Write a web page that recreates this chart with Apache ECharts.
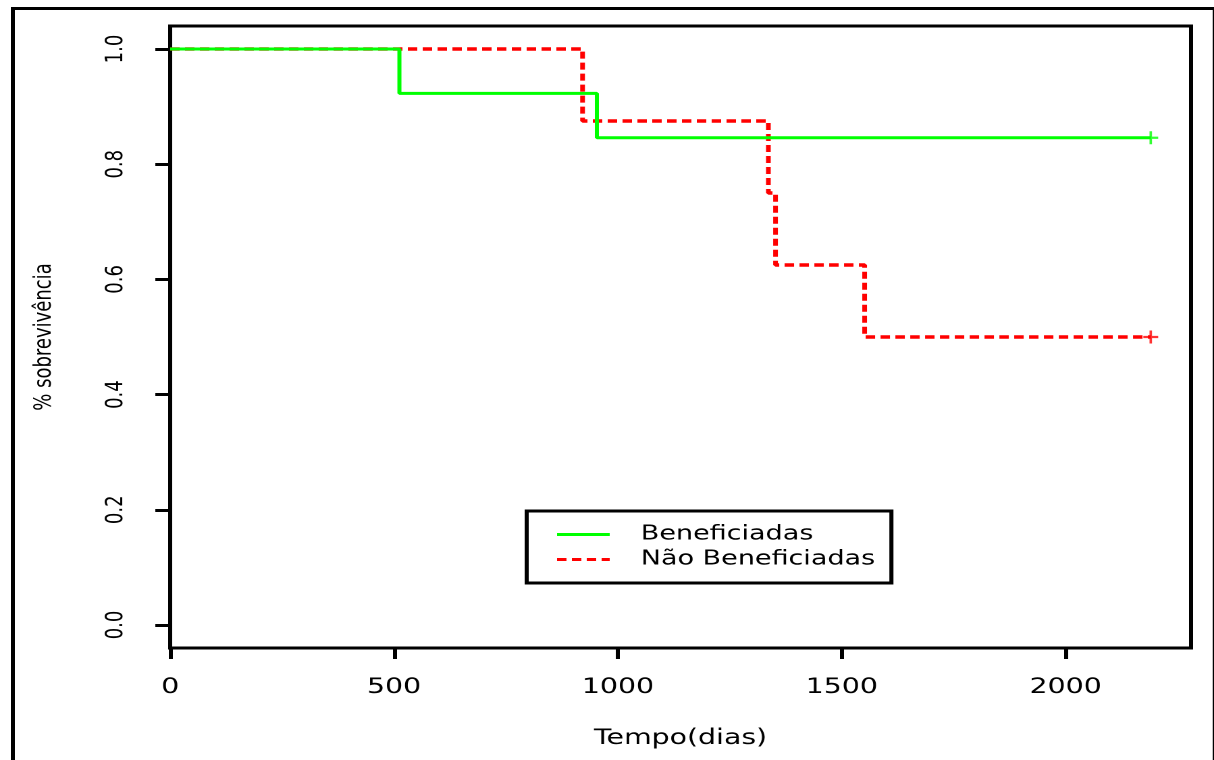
<!DOCTYPE html>
<html>
<head>
<meta charset="utf-8">
<script src="https://cdn.jsdelivr.net/npm/echarts@6/dist/echarts.min.js"></script>
<style>
html,body{margin:0;padding:0;background:#fff;overflow:hidden;width:1214px;height:760px;}
/* the reference image is stretched horizontally (~1.35x); reproduce that stretch */
#chart{width:899px;height:760px;transform:scaleX(1.3504);transform-origin:0 0;}
</style>
</head>
<body>
<div id="chart"></div>
<script>
// Kaplan-Meier step curves: [time, survival]
const beneficiadasTimes = [0, 512, 953, 2190];
const beneficiadasSurv  = [1.0, 0.923, 0.846, 0.846];
const naoTimes = [0, 921, 1336, 1352, 1551, 2190];
const naoSurv  = [1.0, 0.875, 0.75, 0.625, 0.5, 0.5];
const censorBen = [[2190, 0.846]];
const censorNao = [[2190, 0.5]];
const xTicks = [0, 500, 1000, 1500, 2000];
const yTicks = [0, 0.2, 0.4, 0.6, 0.8, 1.0];
const seriesNames = ['Beneficiadas', 'Não Beneficiadas'];
const xTitle = 'Tempo(dias)';
const yTitle = '% sobrevivência';

const pair = (t, s) => t.map((v, i) => [v, s[i]]);
const FONT = '"DejaVu Sans", sans-serif';
const plus = 'path://M5,0H7V5H12V7H7V12H5V7H0V5H5Z';

const chart = echarts.init(document.getElementById('chart'), null, {renderer: 'canvas', devicePixelRatio: 2});
chart.setOption({
  animation: false,
  backgroundColor: '#fff',
  grid: {left: 126, top: 26, right: 17, bottom: 112, show: true, borderColor: '#000', borderWidth: 3, backgroundColor: 'transparent'},
  xAxis: {
    type: 'value', min: 0, max: 2280,
    name: xTitle, nameLocation: 'middle', nameGap: 80,
    nameTextStyle: {fontFamily: FONT, fontSize: 21, color: '#000'},
    axisLine: {show: false, onZero: false},
    splitLine: {show: false},
    axisTick: {show: true, length: 11, inside: false, customValues: xTicks, lineStyle: {color: '#000', width: 3}},
    axisLabel: {customValues: xTicks, margin: 29, fontFamily: FONT, fontSize: 21, color: '#000',
      formatter: v => String(v)}
  },
  yAxis: {
    type: 'value', min: -0.04, max: 1.04,
    name: yTitle, nameLocation: 'middle', nameGap: 84, nameRotate: 90,
    nameTextStyle: {fontFamily: FONT, fontSize: 18, color: '#000'},
    axisLine: {show: false, onZero: false},
    splitLine: {show: false},
    axisTick: {show: true, length: 11, customValues: yTicks, lineStyle: {color: '#000', width: 3}},
    axisLabel: {customValues: yTicks, rotate: 90, margin: 31, fontFamily: FONT, fontSize: 18, color: '#000',
      formatter: v => v.toFixed(1)}
  },
  legend: {
    orient: 'vertical', left: 390, top: 511,
    padding: [11, 12, 11, 21],
    itemWidth: 39, itemHeight: 12, itemGap: 0,
    borderColor: '#000', borderWidth: 3, backgroundColor: '#fff',
    itemStyle: {color: 'transparent', borderWidth: 0, opacity: 0},
    lineStyle: {width: 3},
    textStyle: {fontFamily: FONT, fontSize: 20, color: '#000', padding: [0, 0, 0, 18], lineHeight: 25},
    data: seriesNames
  },
  series: [
    {name: seriesNames[0], type: 'line', step: 'end', symbol: 'none', data: pair(beneficiadasTimes, beneficiadasSurv),
      lineStyle: {color: '#00ff00', width: 3}, itemStyle: {color: '#00ff00'}, z: 3},
    {name: seriesNames[1], type: 'line', step: 'end', symbol: 'none', data: pair(naoTimes, naoSurv),
      lineStyle: {color: '#ff0000', width: 3.5, type: [7, 4]}, itemStyle: {color: '#ff0000'}, z: 2},
    {type: 'scatter', data: censorBen, symbol: plus, symbolSize: [11, 13], itemStyle: {color: '#00ff00'}, z: 4, silent: true},
    {type: 'scatter', data: censorNao, symbol: plus, symbolSize: [11, 13], itemStyle: {color: '#ff0000'}, z: 4, silent: true}
  ],
  graphic: [
    {type: 'rect', left: 7, top: 6, shape: {x: 0, y: 0, width: 890, height: 800}, style: {fill: 'none', stroke: '#000', lineWidth: 3}, silent: true}
  ]
});
</script>
</body>
</html>
